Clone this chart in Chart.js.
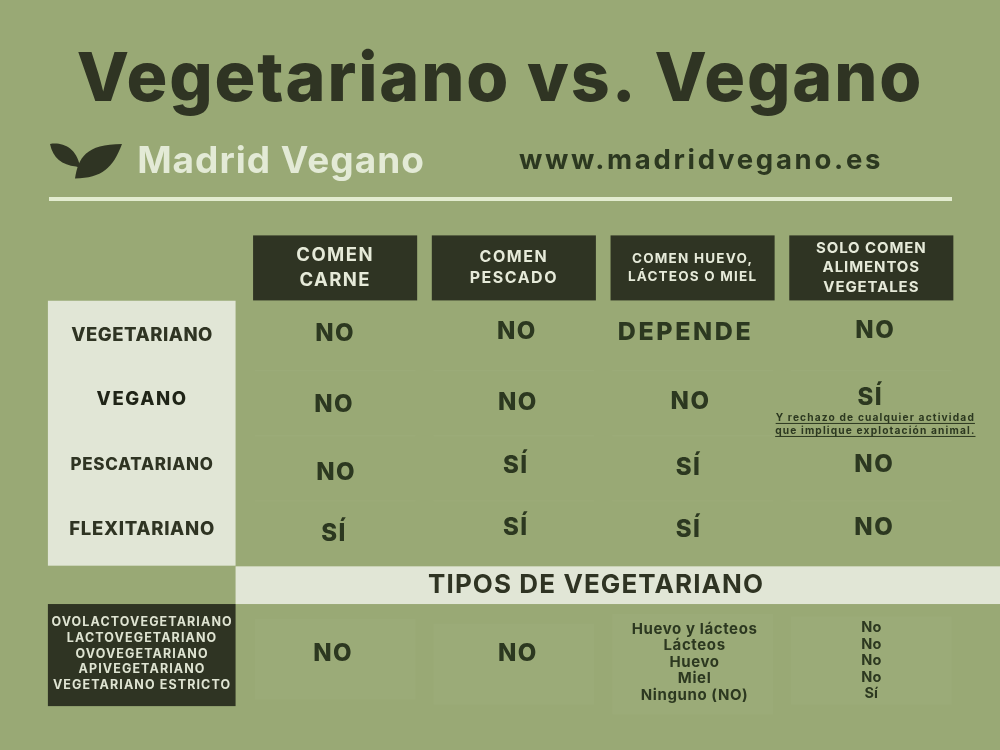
<!DOCTYPE html>
<html>
<head>
<meta charset="utf-8">
<title>Vegetariano vs. Vegano</title>
<script src="https://cdn.jsdelivr.net/npm/chart.js@4/dist/chart.umd.min.js"></script>
<style>
  html, body { margin: 0; padding: 0; background: #99a975; }
  canvas { display: block; }
</style>
</head>
<body>
<canvas id="chart" width="1000" height="750"></canvas>
<script>
const titleText = "Vegetariano vs. Vegano";
const brandName = "Madrid Vegano";
const siteName = "www.madridvegano.es";

const columnHeaders = [
  ["COMEN", "CARNE"],
  ["COMEN", "PESCADO"],
  ["COMEN HUEVO,", "LÁCTEOS O MIEL"],
  ["SOLO COMEN", "ALIMENTOS", "VEGETALES"]
];
const dietNames = ["VEGETARIANO", "VEGANO", "PESCATARIANO", "FLEXITARIANO"];
const vegetariano = ["NO", "NO", "DEPENDE", "NO"];
const vegano = ["NO", "NO", "NO", "SÍ"];
const pescatariano = ["NO", "SÍ", "SÍ", "NO"];
const flexitariano = ["SÍ", "SÍ", "SÍ", "NO"];
const veganoNote = ["Y rechazo de cualquier actividad", "que implique explotación animal."];

const typesTitle = "TIPOS DE VEGETARIANO";
const typeNames = ["OVOLACTOVEGETARIANO", "LACTOVEGETARIANO", "OVOVEGETARIANO", "APIVEGETARIANO", "VEGETARIANO ESTRICTO"];
const typesCarne = ["NO"];
const typesPescado = ["NO"];
const typesHuevo = ["Huevo y lácteos", "Lácteos", "Huevo", "Miel", "Ninguno (NO)"];
const typesVegetales = ["No", "No", "No", "No", "Sí"];

const DARK = "#2f3423";
const INK = "#2c3820";
const LIGHT = "#e1e6d6";
const FONT = "Inter, 'Open Sans', sans-serif";

// one x unit is a column of the table, one y unit is a row
const TYPES_ROW = 4.92;
const BANNER_ROW = 3.89;

const rowValues = [vegetariano, vegano, pescatariano, flexitariano];
const datasets = rowValues.map((vals, r) => ({
  label: dietNames[r],
  data: vals.map((v, c) => ({ x: c, y: r, text: v })),
  pointRadius: 0
}));
datasets.push({
  label: typeNames.join(" / "),
  data: [typesCarne, typesPescado, typesHuevo, typesVegetales].map((v, c) => ({ x: c, y: TYPES_ROW, lines: v })),
  pointRadius: 0
});

// the cells of the original were placed by hand, so they sit a little off the grid
const cellNudge = [
  [[0, 1], [3, -1], [-7, 0], [4, -2]],
  [[-1, 7], [4, 5], [-2, 4], [-1, 0]],
  [[1, 10], [2, 3], [-4, 5], [3, 2]],
  [[-1, 6], [2, 0], [-4, 2], [3, 0]]
];

function put(ctx, text, x, y, size, color, spacing, weight) {
  ctx.font = (weight || 700) + " " + size + "px " + FONT;
  ctx.letterSpacing = (spacing || 0) + "px";
  ctx.fillStyle = color;
  ctx.textAlign = "center";
  ctx.textBaseline = "middle";
  ctx.fillText(text, x, y);
}

function drawLogo(ctx) {
  ctx.fillStyle = DARK;
  ctx.fill(new Path2D("M50 144 C62 142 76 147 80 166 C80 168 78 167 76 166.5 C62 165 53 158 50 144 Z"));
  ctx.fill(new Path2D("M122 144 C113 168 102 178 75 178.5 C78 158 86 144 122 144 Z"));
}

const tablePlugin = {
  id: "table",
  beforeDraw(chart) {
    // the title box has no letter spacing option, it picks this up from the context
    chart.ctx.letterSpacing = "1.9px";
  },
  beforeDatasetsDraw(chart) {
    const { ctx, scales: { x, y } } = chart;
    const px = v => x.getPixelForValue(v);
    const py = v => y.getPixelForValue(v);
    ctx.save();

    // brand strip above the table
    drawLogo(ctx);
    put(ctx, brandName, 281, 162, 37, "#e3ead6", 1, 700);
    put(ctx, siteName, 701, 161, 27.5, INK, 2.7, 700);
    ctx.fillStyle = "#e3ecd0";
    ctx.fillRect(49, 197, 903, 4);

    // faint cell backgrounds
    ctx.fillStyle = "rgba(255,255,255,0.025)";
    const panelTop = [-0.52, -0.45, -0.6, -0.56];
    const panelBottom = [0.72, 0.8, 0.95, 0.8];
    for (let c = 0; c < 4; c++) {
      ctx.fillRect(px(c - 0.45), py(TYPES_ROW + panelTop[c]), px(c + 0.45) - px(c - 0.45), py(TYPES_ROW + panelBottom[c]) - py(TYPES_ROW + panelTop[c]));
      for (let r = 0; r < 3; r++) {
        ctx.fillRect(px(c - 0.45), py(r + 0.57), px(c + 0.45) - px(c - 0.45), 1.5);
      }
    }

    // column headers
    const headerSizes = [18.5, 16, 13.5, 15];
    const headerSpacing = [1.4, 1.5, 1.2, 0.9];
    const headerGaps = [25, 21.5, 18, 19.5];
    columnHeaders.forEach((lines, c) => {
      ctx.fillStyle = DARK;
      ctx.fillRect(px(c - 0.459), py(-1.5), px(c + 0.459) - px(c - 0.459), py(-0.5) - py(-1.5));
      lines.forEach((t, i) => {
        const ly = py(-1) + (i - (lines.length - 1) / 2) * headerGaps[c];
        put(ctx, t, px(c), ly, headerSizes[c], "#e6ead9", headerSpacing[c], 700);
      });
    });

    // diet names box
    ctx.fillStyle = LIGHT;
    ctx.fillRect(px(-1.607), py(-0.495), px(-0.557) - px(-1.607), py(3.58) - py(-0.495));
    const dietSizes = [18.5, 18.5, 17, 18.5];
    const dietSpacing = [0.5, 1.6, 0.7, 0.7];
    dietNames.forEach((t, r) => put(ctx, t, px(-1.08), py(r) + (r === 0 ? 3 : 1.5), dietSizes[r], r === 1 ? "#1f2417" : DARK, dietSpacing[r], 800));

    // banner
    ctx.fillStyle = LIGHT;
    ctx.fillRect(px(-0.557), py(BANNER_ROW - 0.3), px(3.72) - px(-0.557), py(BANNER_ROW + 0.28) - py(BANNER_ROW - 0.3));
    put(ctx, typesTitle, px(1.46), py(BANNER_ROW) - 1, 26, DARK, 1.1, 700);

    // vegetarian types box
    ctx.fillStyle = DARK;
    ctx.fillRect(px(-1.607), py(TYPES_ROW - 0.75), px(-0.557) - px(-1.607), py(TYPES_ROW + 0.82) - py(TYPES_ROW - 0.75));
    typeNames.forEach((t, i) => put(ctx, t, px(-1.08), py(TYPES_ROW) + 1 + (i - 2) * 15.9, 12.5, "#dfe4d2", 1.1, 700));

    ctx.restore();
  },
  afterDatasetsDraw(chart) {
    const { ctx } = chart;
    ctx.save();

    // yes/no cells, read back from the points the scales placed
    rowValues.forEach((vals, r) => {
      chart.getDatasetMeta(r).data.forEach((pt, c) => {
        const [dx, dy] = cellNudge[r][c];
        const long = vals[c].length > 2;
        put(ctx, vals[c], pt.x + dx, pt.y + dy, long ? 25 : 24, INK, long ? 2.6 : 1.5, 800);
      });
    });

    // note below the vegan SÍ
    const notePt = chart.getDatasetMeta(1).data[3];
    veganoNote.forEach((t, i) => {
      const ly = notePt.y + 19.5 + i * 13;
      put(ctx, t, notePt.x + 4, ly, 10.2, INK, 1.15, 700);
      const w = ctx.measureText(t).width;
      ctx.fillStyle = INK;
      ctx.fillRect(notePt.x + 4 - w / 2, ly + 5.5, w, 1);
    });

    // bottom row
    const typePts = chart.getDatasetMeta(4).data;
    put(ctx, typesCarne[0], typePts[0].x - 2, typePts[0].y + 1, 24, INK, 1.5, 800);
    put(ctx, typesPescado[0], typePts[1].x + 4, typePts[1].y + 1, 24, INK, 1.5, 800);
    typesHuevo.forEach((t, i) => put(ctx, t, typePts[2].x + 2, typePts[2].y + 9.5 + (i - 2) * 16.5, 15, INK, 0.6, 700));
    typesVegetales.forEach((t, i) => put(ctx, t, typePts[3].x, typePts[3].y + 8 + (i - 2) * 16.5, 14.5, INK, 0, 700));

    ctx.restore();
  }
};

new Chart(document.getElementById("chart"), {
  type: "scatter",
  data: { datasets },
  plugins: [tablePlugin],
  options: {
    responsive: false,
    animation: false,
    devicePixelRatio: 1,
    layout: { padding: 0 },
    scales: {
      x: { type: "linear", min: -1.875, max: 3.72, display: false },
      y: { type: "linear", reverse: true, min: -1.66, max: 6.415, display: false }
    },
    plugins: {
      legend: { display: false },
      tooltip: { enabled: false },
      title: {
        display: true,
        text: titleText,
        color: DARK,
        font: { family: FONT, size: 68, weight: 800, lineHeight: 1.2 },
        padding: { top: 40, bottom: 103.4 }
      }
    }
  }
});
</script>
</body>
</html>
